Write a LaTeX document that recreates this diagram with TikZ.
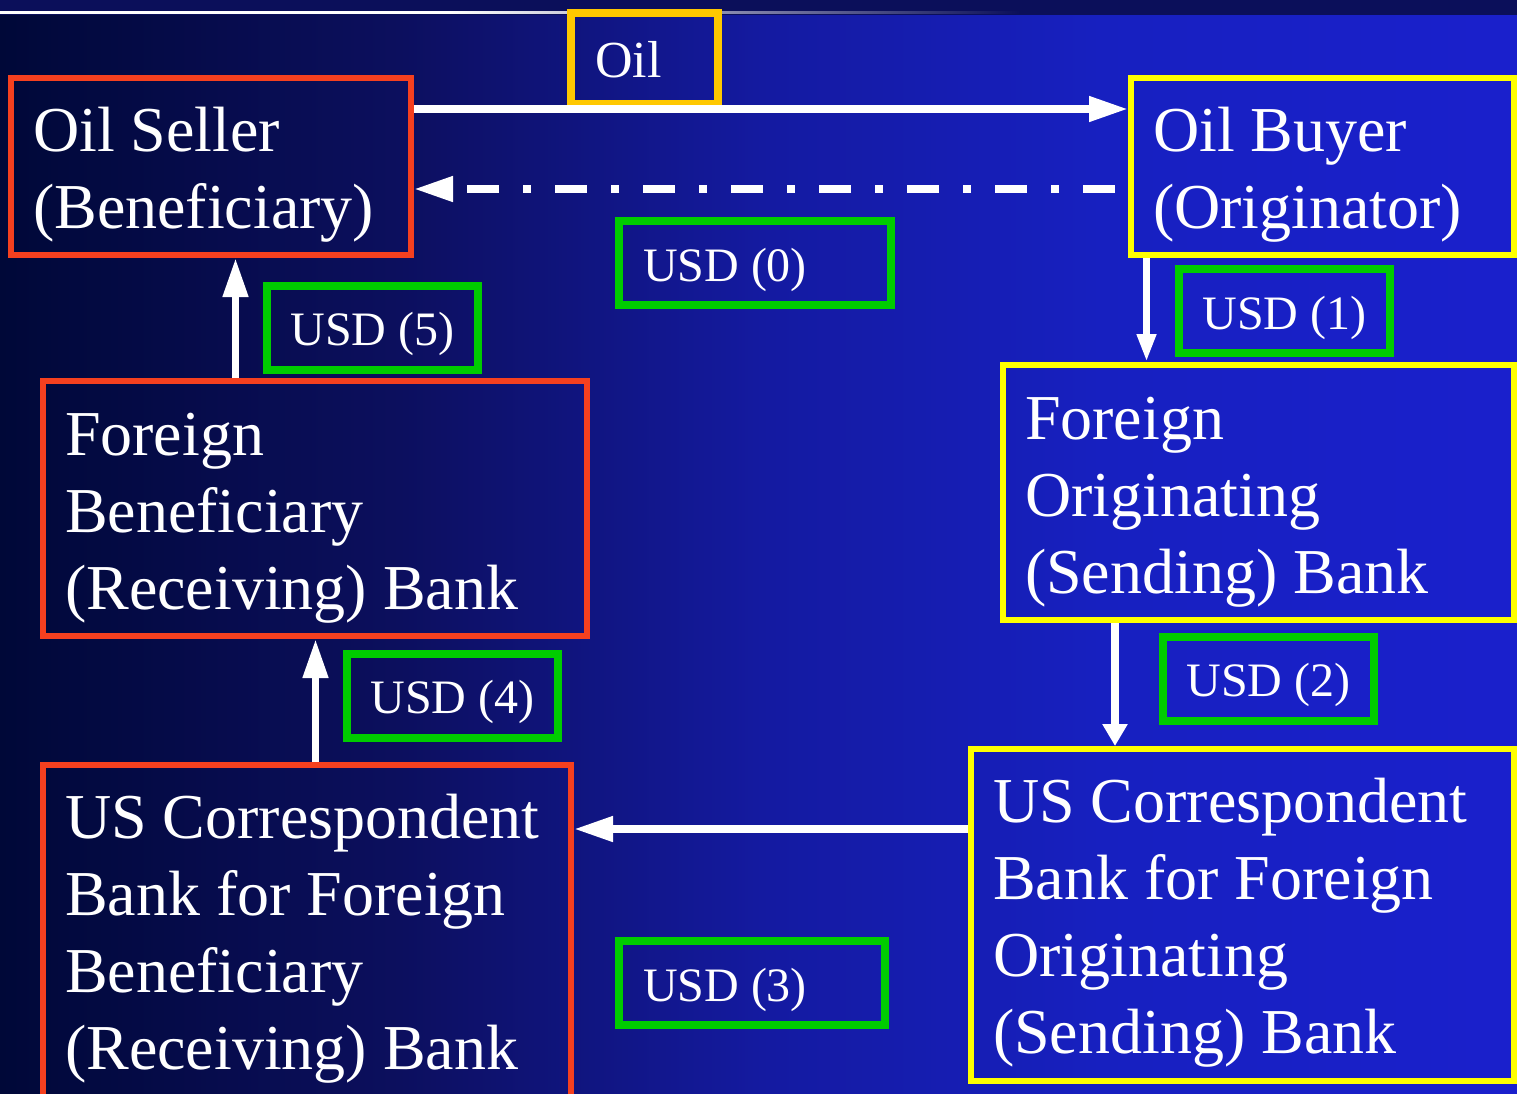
\documentclass[tikz,border=0pt]{standalone}
\usepackage{fontspec}
\setmainfont{Liberation Serif}
\usetikzlibrary{calc,arrows.meta,positioning}

\definecolor{sellerred}{RGB}{245,64,31}
\definecolor{buyeryellow}{RGB}{255,255,0}
\definecolor{usdgreen}{RGB}{0,204,0}
\definecolor{oilgold}{RGB}{255,200,0}
\definecolor{topnavy}{RGB}{11,15,90}
\definecolor{linegray}{RGB}{150,150,165}
\definecolor{bgA}{RGB}{0,8,56}
\definecolor{bgB}{RGB}{12,15,94}
\definecolor{bgC}{RGB}{20,26,160}
\definecolor{bgD}{RGB}{23,32,192}
\definecolor{bgE}{RGB}{26,32,204}

\tikzset{
  party/.style={draw=#1, line width=6pt, text=white, inner xsep=22pt, inner ysep=0pt,
    align=flush left, font=\fontsize{64}{77}\selectfont, text height=0pt},
  boxsize/.style n args={3}{minimum width=#1pt, minimum height=#2pt,
    text width=#1pt-44pt, text depth=#3pt},
  usd/.style={draw=usdgreen, line width=8pt, text=white, inner sep=0pt,
    minimum width=211pt, minimum height=84pt, font=\fontsize{48}{58}\selectfont,
    text height=36pt, text depth=0pt},
  flow/.style={draw=white, line width=7.5pt, -{Triangle[length=39pt,width=24pt]}},
}

\begin{document}
\begin{tikzpicture}[x=1pt, y=-1pt]
  \useasboundingbox (0,0) rectangle (1517,1093);
  % background
  \shade[left color=bgA, right color=bgB] (0,15) rectangle (401,1093);
  \shade[left color=bgB, right color=bgC] (400,15) rectangle (761,1093);
  \shade[left color=bgC, right color=bgD] (760,15) rectangle (1101,1093);
  \shade[left color=bgD, right color=bgE] (1100,15) rectangle (1517,1093);
  \path[fill=topnavy] (0,0) rectangle (1517,15);
  \path[fill=white] (0,11) rectangle (450,13.5);
  \shade[left color=white, middle color=linegray, right color=topnavy] (449,11) rectangle (1020,13.5);

  % parties and banks
  \node[party=sellerred, boxsize={400}{177}{31}] (seller) at (211,166.5) {Oil Seller\\(Beneficiary)};
  \node[party=buyeryellow, boxsize={383}{177}{31}] (buyer) at (1322.5,166.5) {Oil Buyer\\(Originator)};
  \node[party=sellerred, boxsize={544}{255}{107}] (fbb) at (315,508.5) {Foreign\\Beneficiary\\(Receiving) Bank};
  \node[party=buyeryellow, boxsize={511}{255}{107}] (fob) at (1258.5,492.5) {Foreign\\Originating\\(Sending) Bank};
  \node[party=sellerred, boxsize={528}{335}{189}] (uscr) at (307,932.5) {US Correspondent\\Bank for Foreign\\Beneficiary\\(Receiving) Bank};
  \node[party=buyeryellow, boxsize={543}{332}{185}] (uscs) at (1242.5,915) {US Correspondent\\Bank for Foreign\\Originating\\(Sending) Bank};

  % labels
  \node[draw=oilgold, line width=8pt, text=white, inner xsep=24pt, inner ysep=0pt,
    minimum width=147pt, minimum height=91pt, text width=99pt, align=flush left,
    text height=38pt, text depth=0pt, font=\fontsize{52}{62}\selectfont] (oil) at (644.5,58.5) {Oil};
  \node[usd, minimum width=272pt, text width=224pt, align=flush left] (usd0) at (755,263) {USD (0)};
  \node[usd] (usd1) at (1284.5,311) {USD (1)};
  \node[usd] (usd2) at (1268.5,678.5) {USD (2)};
  \node[usd, minimum width=266pt, text width=218pt, align=flush left] (usd3) at (752,983) {USD (3)};
  \node[usd] (usd4) at (452.5,695.5) {USD (4)};
  \node[usd] (usd5) at (372.5,327.5) {USD (5)};

  % flows
  \coordinate (oilflow) at ($(seller.north east)+(0,34)$);
  \draw[flow] (oilflow) -- (oilflow -| buyer.west);
  \coordinate (payzero) at ($(buyer.north west)+(0,114)$);
  \draw[flow, dash pattern=on 32pt off 24pt on 8pt off 24pt, shorten <=13pt] (payzero) -- (payzero -| seller.east);
  \coordinate (payone) at ($(buyer.south west)+(18.5,0)$);
  \draw[flow, -{Triangle[length=28pt,width=18pt]}] (payone) -- (payone |- fob.north);
  \coordinate (paytwo) at ($(fob.south west)+(115,0)$);
  \draw[flow, -{Triangle[length=22pt,width=24pt]}] (paytwo) -- (paytwo |- uscs.north);
  \coordinate (paythree) at ($(uscs.north west)+(0,83)$);
  \draw[flow] (paythree) -- (paythree -| uscr.east);
  \coordinate (payfour) at ($(uscr.north west)+(275.5,0)$);
  \draw[flow] (payfour) -- (payfour |- fbb.south);
  \coordinate (payfive) at ($(fbb.north west)+(195.5,0)$);
  \draw[flow] (payfive) -- (payfive |- seller.south);
\end{tikzpicture}
\end{document}
